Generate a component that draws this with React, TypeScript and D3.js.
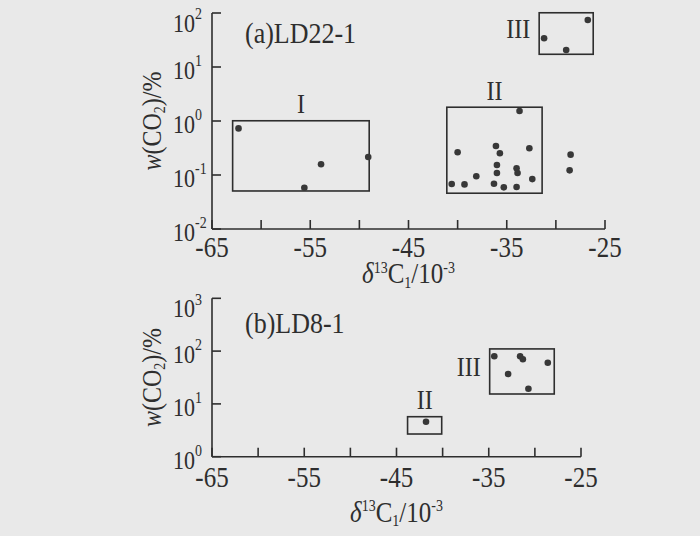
import React from "react";
import * as d3 from "d3";

const width = 700;
const height = 536;
const BG = "#e9e9e9";
const INK = "#2e2e2e";
const FONT = "'Liberation Serif', 'Times New Roman', serif";
const STRETCH = 1.15; // the printed glyphs are a little taller than Times

// shared x axis
const xDomain = [-65, -25];
const xTicks = [-65, -60, -55, -50, -45, -40, -35, -30, -25];
const xTickLabels = [-65, -55, -45, -35, -25];

// (a) LD22-1 : [δ13C1, w(CO2)]
const ld22GroupI = [
  [-62.3, 0.73],
  [-55.6, 0.058],
  [-53.9, 0.158],
  [-49.1, 0.215],
];
const ld22GroupII = [
  [-33.7, 1.53],
  [-40.0, 0.263],
  [-36.1, 0.344],
  [-35.7, 0.252],
  [-32.7, 0.312],
  [-36.0, 0.153],
  [-36.0, 0.109],
  [-34.0, 0.133],
  [-33.9, 0.109],
  [-38.1, 0.095],
  [-32.4, 0.084],
  [-40.6, 0.068],
  [-39.3, 0.067],
  [-36.3, 0.069],
  [-35.3, 0.059],
  [-34.0, 0.06],
];
const ld22Other = [
  [-28.5, 0.238],
  [-28.6, 0.122],
];
const ld22GroupIII = [
  [-26.75, 74],
  [-31.2, 34],
  [-28.95, 20.6],
];
const ld22Yticks = [0.01, 0.1, 1, 10, 100];
const ld22Boxes = [
  { name: "I", x: [-62.9, -49.0], y: [0.0506, 1.01], side: "top" },
  { name: "II", x: [-41.1, -31.4], y: [0.046, 1.8], side: "top" },
  { name: "III", x: [-31.7, -26.2], y: [17.2, 101], side: "left" },
];

// (b) LD8-1
const ld8GroupII = [[-41.8, 4.6]];
const ld8GroupIII = [
  [-34.4, 79.7],
  [-31.6, 79.7],
  [-31.3, 70],
  [-28.6, 60.3],
  [-32.9, 36.8],
  [-30.7, 19.4],
];
const ld8Yticks = [1, 10, 100, 1000];
const ld8Boxes = [
  { name: "II", x: [-43.8, -40.1], y: [2.69, 5.72], side: "top" },
  { name: "III", x: [-34.9, -27.9], y: [15.4, 110], side: "left" },
];

const panels = [
  {
    tag: "(a)",
    well: "LD22-1",
    points: [...ld22GroupI, ...ld22GroupII, ...ld22Other, ...ld22GroupIII],
    boxes: ld22Boxes,
    yTicks: ld22Yticks,
    yDomain: [0.01, 100],
    xRange: [212, 605],
    yRange: [229, 13],
    labelDy: 30,
    tickDy: 28,
    titleDy: 54,
  },
  {
    tag: "(b)",
    well: "LD8-1",
    points: [...ld8GroupII, ...ld8GroupIII],
    boxes: ld8Boxes,
    yTicks: ld8Yticks,
    yDomain: [1, 1000],
    xRange: [212, 581],
    yRange: [456.7, 298.3],
    labelDy: 35,
    tickDy: 30,
    titleDy: 65,
  },
];

// text placed at (x, y) and stretched a bit vertically
function Txt({ x, y, rotate = 0, children, ...rest }) {
  return (
    <text
      transform={`translate(${x},${y}) rotate(${rotate}) scale(1,${STRETCH})`}
      {...rest}
    >
      {children}
    </text>
  );
}

function Panel({ p }) {
  const x = d3.scaleLinear().domain(xDomain).range(p.xRange);
  const y = d3.scaleLog().domain(p.yDomain).range(p.yRange);
  const left = p.xRange[0];
  const right = p.xRange[1];
  const bottom = p.yRange[0];
  const top = p.yRange[1];
  const midX = (left + right) / 2;
  const midY = (top + bottom) / 2;
  const topTick = p.yTicks[p.yTicks.length - 1];

  return (
    <g>
      {/* axes */}
      <g stroke={INK} strokeWidth={1.6}>
        <line x1={left} x2={left} y1={bottom} y2={top} />
        <line x1={left} x2={right} y1={bottom} y2={bottom} />
        {xTicks.map((t) => (
          <line key={t} x1={x(t)} x2={x(t)} y1={bottom} y2={bottom - 9} />
        ))}
        {p.yTicks.map((t) => (
          <line key={t} x1={left} x2={left + 9} y1={y(t)} y2={y(t)} />
        ))}
      </g>

      {/* tick labels */}
      {xTickLabels.map((t) => (
        <Txt key={t} x={x(t)} y={bottom + p.tickDy} textAnchor="middle" fontSize={25}>
          {t}
        </Txt>
      ))}
      {p.yTicks.map((t) => (
        // the top label sits a little lower than its tick, as printed
        <Txt key={t} x={left - 39} y={y(t) + (t === topTick ? 19 : 12)} fontSize={22}>
          10
          <tspan dy={-11} fontSize={14}>
            {Math.round(Math.log10(t))}
          </tspan>
        </Txt>
      ))}

      {/* axis titles */}
      <Txt x={midX} y={bottom + p.titleDy} textAnchor="middle" fontSize={25}>
        <tspan fontStyle="italic">δ</tspan>
        <tspan dy={-9} fontSize={14}>13</tspan>
        <tspan dy={9}>C</tspan>
        <tspan dy={4} fontSize={14}>1</tspan>
        <tspan dy={-4}>/10</tspan>
        <tspan dy={-9} fontSize={14}>-3</tspan>
      </Txt>
      <Txt x={151} y={midY} rotate={-90} textAnchor="middle" dy="0.35em" fontSize={24}>
        <tspan fontStyle="italic">w</tspan>
        <tspan>(CO</tspan>
        <tspan dy={4} fontSize={14}>2</tspan>
        <tspan dy={-4}>)/%</tspan>
      </Txt>

      {/* panel label */}
      <Txt x={left + 33} y={top + p.labelDy} fontSize={26}>
        {p.tag}
        {p.well}
      </Txt>

      {/* group boxes */}
      {p.boxes.map((b) => {
        const bx0 = x(b.x[0]);
        const bx1 = x(b.x[1]);
        const by0 = y(b.y[1]);
        const by1 = y(b.y[0]);
        const lx = b.side === "top" ? (bx0 + bx1) / 2 : bx0 - 21;
        const ly = b.side === "top" ? by0 - 17 : (by0 + by1) / 2 - 5;
        return (
          <g key={b.name}>
            <rect
              x={bx0}
              y={by0}
              width={bx1 - bx0}
              height={by1 - by0}
              fill="none"
              stroke={INK}
              strokeWidth={1.6}
            />
            <Txt x={lx} y={ly} dy="0.35em" textAnchor="middle" fontSize={24}>
              {b.name}
            </Txt>
          </g>
        );
      })}

      {/* samples */}
      {p.points.map((d, i) => (
        <circle key={i} cx={x(d[0])} cy={y(d[1])} r={3.3} fill="#383838" />
      ))}
    </g>
  );
}

export default function App() {
  return (
    <svg
      width={width}
      height={height}
      style={{ position: "absolute", left: 0, top: 0, display: "block" }}
      fontFamily={FONT}
      fill={INK}
    >
      <rect width={width} height={height} fill={BG} />
      {panels.map((p) => (
        <Panel key={p.well} p={p} />
      ))}
    </svg>
  );
}
